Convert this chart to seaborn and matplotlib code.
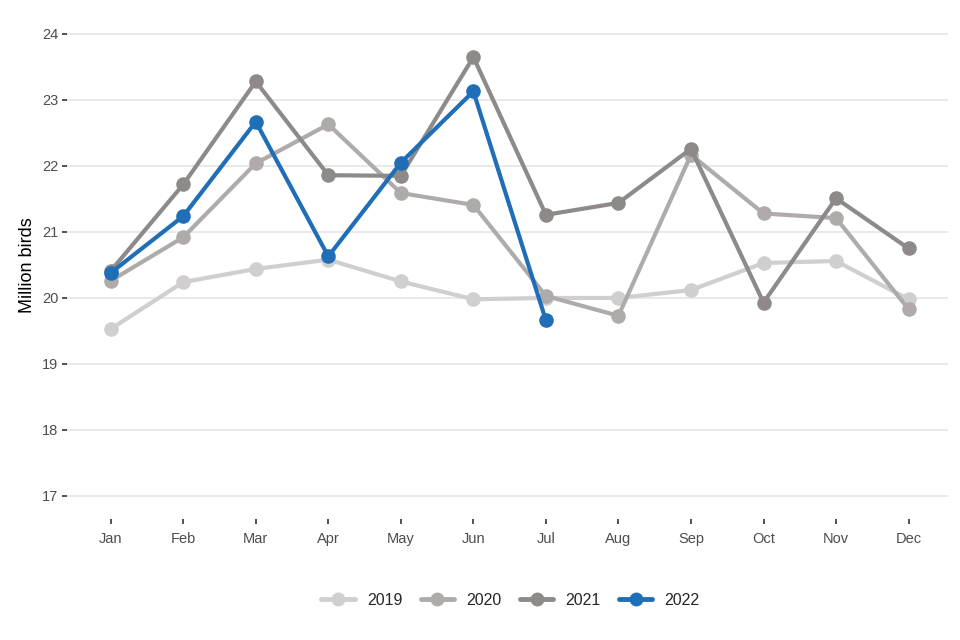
import pandas as pd
import seaborn as sns
import matplotlib.pyplot as plt

months = ['Jan', 'Feb', 'Mar', 'Apr', 'May', 'Jun',
          'Jul', 'Aug', 'Sep', 'Oct', 'Nov', 'Dec']
y2019 = [19.53, 20.24, 20.44, 20.58, 20.25, 19.98, 20.00, 20.00, 20.12, 20.53, 20.56, 19.98]
y2020 = [20.26, 20.92, 22.04, 22.63, 21.59, 21.41, 20.03, 19.73, 22.17, 21.28, 21.21, 19.83]
y2021 = [20.41, 21.72, 23.28, 21.86, 21.85, 23.65, 21.26, 21.44, 22.26, 19.93, 21.51, 20.75]
y2022 = [20.38, 21.24, 22.67, 20.63, 22.05, 23.13, 19.66]

series = {'2019': y2019, '2020': y2020, '2021': y2021, '2022': y2022}
rows = []
for yr, vals in series.items():
    for m, v in zip(months, vals):
        rows.append({'month': m, 'value': v, 'year': yr})
df = pd.DataFrame(rows)
df['month'] = pd.Categorical(df['month'], categories=months, ordered=True)

palette = {'2019': '#D0CECE', '2020': '#AFABAB', '2021': '#8E8A8A', '2022': '#1F6EB7'}

sns.set_style('white')
plt.rcParams['font.family'] = ['Liberation Sans', 'DejaVu Sans']

fig = plt.figure(figsize=(9.6, 6.4), dpi=100)
ax = fig.add_axes([0.070, 0.189, 0.918, 0.794])

sns.lineplot(data=df, x='month', y='value', hue='year', palette=palette,
             marker='o', markersize=10.5, markeredgewidth=0, linewidth=3,
             ax=ax)

ax.set_xlim(-0.6, 11.55)
ax.set_ylim(16.65, 24.35)
ax.set_yticks(range(17, 25))
ax.grid(axis='y', color='#E5E5E5', linewidth=1.2)
ax.grid(axis='x', visible=False)
ax.set_axisbelow(True)
for s in ax.spines.values():
    s.set_visible(False)
ax.tick_params(axis='both', bottom=True, left=True, length=3.5, width=1.2,
               color='#333333', labelcolor='#4D4D4D', labelsize=10.5, pad=3)
ax.tick_params(axis='x', pad=6)
ax.set_xlabel('')
ax.set_ylabel('Million birds', fontsize=13, color='black', labelpad=4)

leg = ax.legend(loc='upper center', bbox_to_anchor=(0.503, -0.117), ncol=4,
                frameon=False, fontsize=11.5, handlelength=2.1,
                columnspacing=1.15, handletextpad=0.75)
for h in leg.legend_handles:
    h.set_linewidth(3.5)
    h.set_markersize(10)

plt.savefig('out.png', dpi=100)
